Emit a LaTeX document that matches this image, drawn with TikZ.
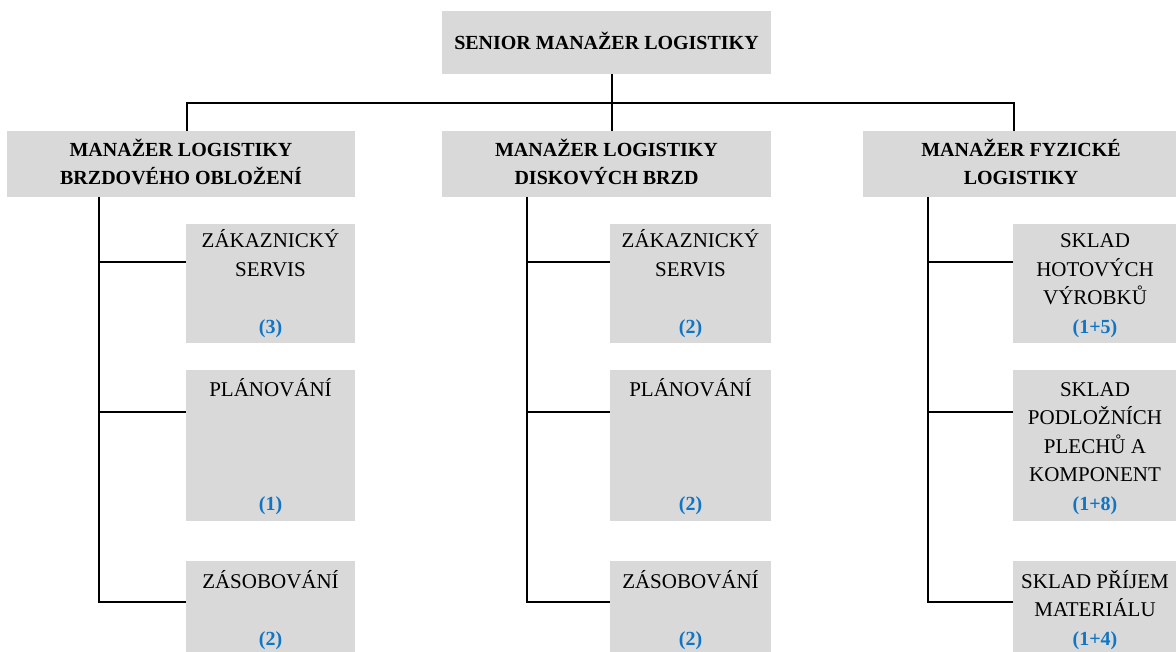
\documentclass[tikz,border=0pt]{standalone}
\usepackage{fontspec}
\setmainfont{Liberation Serif}
\definecolor{boxgray}{HTML}{D9D9D9}
\definecolor{numblue}{HTML}{0F75C4}
\begin{document}
\begin{tikzpicture}[x=1pt,y=-1pt,
  box/.style={fill=boxgray, draw=none, inner sep=0pt, outer sep=0pt, anchor=north west},
  txt/.style={anchor=base, inner sep=0pt, font=\fontsize{21}{28.5}\selectfont},
  bold/.style={txt, font=\fontsize{20}{28.5}\selectfont\bfseries},
  num/.style={bold, text=numblue},
  conn/.style={draw=black, line width=2.2pt, line join=miter}]
\useasboundingbox (0,0) rectangle (1176,652);

% boxes
\node[box, minimum width=329pt, minimum height=63pt] (top) at (442,11) {};
\node[box, minimum width=348pt, minimum height=66pt] (lm) at (7,131) {};
\node[box, minimum width=329pt, minimum height=66pt] (mm) at (442,131) {};
\node[box, minimum width=317pt, minimum height=66pt] (rm) at (863,131) {};

\node[box, minimum width=169pt, minimum height=119pt] (lc1) at (186,224) {};
\node[box, minimum width=169pt, minimum height=151pt] (lc2) at (186,370) {};
\node[box, minimum width=169pt, minimum height=95pt] (lc3) at (186,561) {};
\node[box, minimum width=161pt, minimum height=119pt] (mc1) at (610,224) {};
\node[box, minimum width=161pt, minimum height=151pt] (mc2) at (610,370) {};
\node[box, minimum width=161pt, minimum height=95pt] (mc3) at (610,561) {};
\node[box, minimum width=167pt, minimum height=119pt] (rc1) at (1013,224) {};
\node[box, minimum width=167pt, minimum height=151pt] (rc2) at (1013,370) {};
\node[box, minimum width=167pt, minimum height=95pt] (rc3) at (1013,561) {};

% texts
\node[bold] (ttop) at (606.5,50) {SENIOR MANAŽER LOGISTIKY};
\node[bold] (tlm1) at (181,157) {MANAŽER LOGISTIKY};
\node[bold] (tlm2) at (181,185) {BRZDOVÉHO OBLOŽENÍ};
\node[bold] (tmm1) at (606.5,157) {MANAŽER LOGISTIKY};
\node[bold] (tmm2) at (606.5,185) {DISKOVÝCH BRZD};
\node[bold] (trm1) at (1021,157) {MANAŽER FYZICKÉ};
\node[bold] (trm2) at (1021,185) {LOGISTIKY};

\node[txt] (tlc1a) at (270.5,248) {ZÁKAZNICKÝ};
\node[txt] (tlc1b) at (270.5,276.5) {SERVIS};
\node[num] (tlc1n) at (270.5,333.5) {(3)};
\node[txt] (tlc2a) at (270.5,396) {PLÁNOVÁNÍ};
\node[num] (tlc2n) at (270.5,510) {(1)};
\node[txt] (tlc3a) at (270.5,588) {ZÁSOBOVÁNÍ};
\node[num] (tlc3n) at (270.5,645) {(2)};

\node[txt] (tmc1a) at (690.5,248) {ZÁKAZNICKÝ};
\node[txt] (tmc1b) at (690.5,276.5) {SERVIS};
\node[num] (tmc1n) at (690.5,333.5) {(2)};
\node[txt] (tmc2a) at (690.5,396) {PLÁNOVÁNÍ};
\node[num] (tmc2n) at (690.5,510) {(2)};
\node[txt] (tmc3a) at (690.5,588) {ZÁSOBOVÁNÍ};
\node[num] (tmc3n) at (690.5,645) {(2)};

\node[txt] (trc1a) at (1095,248) {SKLAD};
\node[txt] (trc1b) at (1095,276.5) {HOTOVÝCH};
\node[txt] (trc1c) at (1095,305) {VÝROBKŮ};
\node[num] (trc1n) at (1095,333.5) {(1+5)};
\node[txt] (trc2a) at (1095,396) {SKLAD};
\node[txt] (trc2b) at (1095,424.5) {PODLOŽNÍCH};
\node[txt] (trc2c) at (1095,453) {PLECHŮ A};
\node[txt] (trc2d) at (1095,481.5) {KOMPONENT};
\node[num] (trc2n) at (1095,510) {(1+8)};
\node[txt] (trc3a) at (1095,588) {SKLAD PŘÍJEM};
\node[txt] (trc3b) at (1095,616.5) {MATERIÁLU};
\node[num] (trc3n) at (1095,645) {(1+4)};

% connector coordinates
\coordinate (jL) at (187,103);
\coordinate (jM) at (612,103);
\coordinate (jR) at (1014,103);
\coordinate (lk1) at (99,262);
\coordinate (lk2) at (99,412);
\coordinate (lk3) at (99,602);
\coordinate (mk1) at (527,262);
\coordinate (mk2) at (527,412);
\coordinate (mk3) at (527,602);
\coordinate (rk1) at (928,262);
\coordinate (rk2) at (928,412);
\coordinate (rk3) at (928,602);

% connectors
\draw[conn] (jM |- top.south) -- (jM |- mm.north);
\draw[conn] (jL |- lm.north) -- (jL) -- (jR) -- (jR |- rm.north);

\draw[conn] (lk1 |- lm.south) -- (lk3) -- (lk3 -| lc3.west);
\draw[conn] (lk1) -- (lk1 -| lc1.west);
\draw[conn] (lk2) -- (lk2 -| lc2.west);

\draw[conn] (mk1 |- mm.south) -- (mk3) -- (mk3 -| mc3.west);
\draw[conn] (mk1) -- (mk1 -| mc1.west);
\draw[conn] (mk2) -- (mk2 -| mc2.west);

\draw[conn] (rk1 |- rm.south) -- (rk3) -- (rk3 -| rc3.west);
\draw[conn] (rk1) -- (rk1 -| rc1.west);
\draw[conn] (rk2) -- (rk2 -| rc2.west);
\end{tikzpicture}
\end{document}
